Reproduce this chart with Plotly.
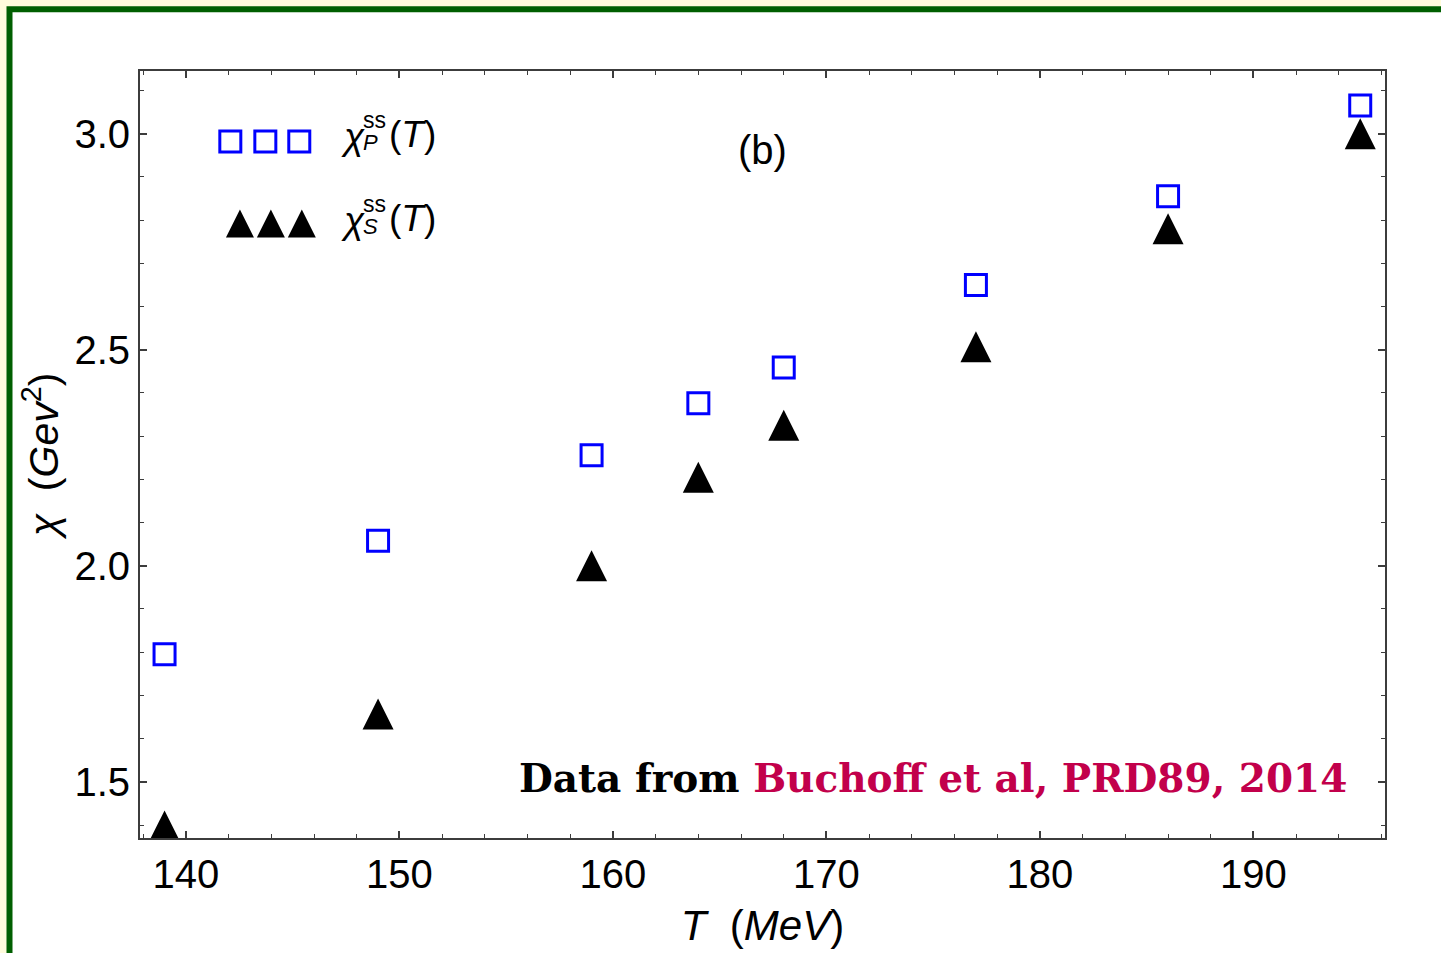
import plotly.graph_objects as go

# ---------------- data ----------------
T = [139, 149, 159, 164, 168, 177, 186, 195]
chi_P = [1.795, 2.058, 2.256, 2.376, 2.459, 2.650, 2.855, 3.065]
chi_S = [1.398, 1.657, 2.000, 2.205, 2.325, 2.507, 2.780, 3.000]

x_ticks = [140, 150, 160, 170, 180, 190]
y_ticks = [1.5, 2.0, 2.5, 3.0]
y_tick_labels = ["1.5", "2.0", "2.5", "3.0"]

# legend decoration positions (data coords)
leg_sq_x = [142.08, 143.72, 145.31]
leg_sq_y = [2.982, 2.982, 2.982]
leg_tr_x = [142.53, 143.98, 145.43]
leg_tr_y = [2.792, 2.792, 2.792]

BLUE = "#0000ff"
CRIMSON = "#c2004b"
GREEN = "#005f00"
CREAM = "#fffcdc"
AXIS = "#3c3c3c"

SQ_SIZE = 21
TR_SIZE = 31
LEG_TR_SIZE = 28

fig = go.Figure()

fig.add_trace(go.Scatter(
    x=T, y=chi_P, mode="markers", showlegend=False,
    marker=dict(symbol="square-open", size=SQ_SIZE, color=BLUE,
                line=dict(color=BLUE, width=3)),
))
fig.add_trace(go.Scatter(
    x=T, y=chi_S, mode="markers", showlegend=False,
    marker=dict(symbol="arrow-down", angle=180, size=TR_SIZE, color="black",
                standoff=TR_SIZE / 2, line=dict(width=0)),
))
# legend decorations
fig.add_trace(go.Scatter(
    x=leg_sq_x, y=leg_sq_y, mode="markers", showlegend=False,
    marker=dict(symbol="square-open", size=SQ_SIZE, color=BLUE,
                line=dict(color=BLUE, width=3)),
))
fig.add_trace(go.Scatter(
    x=leg_tr_x, y=leg_tr_y, mode="markers", showlegend=False,
    marker=dict(symbol="arrow-down", angle=180, size=LEG_TR_SIZE, color="black",
                standoff=LEG_TR_SIZE / 2, line=dict(width=0)),
))

L, R, TOP, B = 140, 56, 71, 113
W, H = 1441, 953
PW, PH = W - L - R, H - TOP - B


def px2x(px):
    return (px - L) / PW


def py2y(py):
    return (H - B - py) / PH


SANS = "Liberation Sans, Arial, sans-serif"

axis_common = dict(
    showgrid=False, zeroline=False, showline=True, linecolor=AXIS, linewidth=2,
    mirror="ticks", ticks="inside", ticklen=7, tickwidth=1.5, tickcolor=AXIS,
    tickfont=dict(family=SANS, size=40, color="black"),
)

fig.update_layout(
    width=W, height=H,
    margin=dict(l=L, r=R, t=TOP, b=B),
    paper_bgcolor=CREAM, plot_bgcolor="white",
    xaxis=dict(
        range=[137.85, 196.16], tickvals=x_ticks,
        ticktext=[str(v) for v in x_ticks],
        minor=dict(dtick=2, tick0=0, ticks="inside", ticklen=4, tickwidth=1.2, tickcolor=AXIS),
        title=dict(text="<i>T</i>  (<i>MeV</i>)", standoff=16,
                   font=dict(family=SANS, size=42, color="black")),
        **axis_common,
    ),
    yaxis=dict(
        range=[1.37, 3.145], tickvals=y_ticks, ticktext=y_tick_labels,
        minor=dict(dtick=0.1, tick0=0, ticks="inside", ticklen=4, tickwidth=1.2, tickcolor=AXIS),
        title=dict(text="<i>χ</i>  (<i>Gev</i><sup>2</sup>)", standoff=3,
                   font=dict(family=SANS, size=41, color="black")),
        **axis_common,
    ),
    font=dict(family=SANS, color="black"),
)

# frame: white panel with green border on top and left
fig.add_shape(type="rect", xref="paper", yref="paper", layer="below",
              x0=px2x(9.5), x1=px2x(1480), y0=py2y(990), y1=py2y(9),
              fillcolor="white", line=dict(color=GREEN, width=6))

ann = []


def add_label(row_y, sub):
    ann.append(dict(x=px2x(352.5), y=py2y(row_y + 2), xref="paper", yref="paper",
                    text="<i>χ</i>", showarrow=False, xanchor="center", yanchor="middle",
                    font=dict(family=SANS, size=37, color="black")))
    ann.append(dict(x=px2x(374.5), y=py2y(row_y - 15), xref="paper", yref="paper",
                    text="ss", showarrow=False, xanchor="center", yanchor="middle",
                    font=dict(family=SANS, size=23, color="black")))
    ann.append(dict(x=px2x(370), y=py2y(row_y + 8), xref="paper", yref="paper",
                    text="<i>" + sub + "</i>", showarrow=False, xanchor="center", yanchor="middle",
                    font=dict(family=SANS, size=22, color="black")))
    ann.append(dict(x=px2x(387), y=py2y(row_y), xref="paper", yref="paper",
                    text="(<i>T</i>)", showarrow=False, xanchor="left", yanchor="middle",
                    font=dict(family=SANS, size=37, color="black")))


add_label(135, "P")
add_label(219, "S")

ann.append(dict(x=px2x(762), y=py2y(150), xref="paper", yref="paper", text="(b)",
                showarrow=False, xanchor="center", yanchor="middle",
                font=dict(family=SANS, size=40, color="black")))
ann.append(dict(x=px2x(1349), y=py2y(780), xref="paper", yref="paper",
                text="<b>Data from <span style='color:%s'>Buchoff et al, PRD89, 2014</span></b>" % CRIMSON,
                showarrow=False, xanchor="right", yanchor="middle",
                font=dict(family="DejaVu Serif, serif", size=39, color="black")))

fig.update_layout(annotations=ann)

fig.write_html("out.html")
